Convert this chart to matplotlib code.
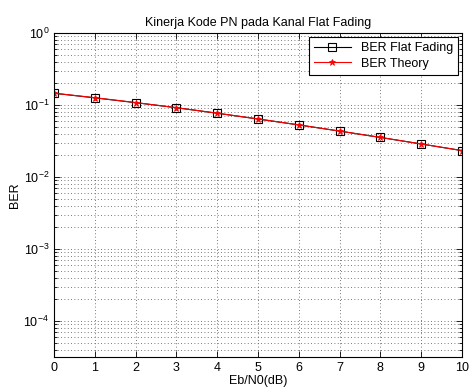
import numpy as np
import matplotlib
matplotlib.use('Agg')
import matplotlib.pyplot as plt
from matplotlib.ticker import LogLocator, NullFormatter

plt.rcParams['font.family'] = ['Liberation Sans', 'DejaVu Sans']
plt.rcParams['mathtext.default'] = 'regular'
plt.rcParams['font.size'] = 9

# data
ebn0 = [0, 1, 2, 3, 4, 5, 6, 7, 8, 9, 10]
ber_sim = [0.146, 0.126, 0.108, 0.092, 0.077, 0.064, 0.053, 0.0435, 0.0355, 0.0288, 0.0233]
ber_theory = [0.1464, 0.1267, 0.1085, 0.0919, 0.0771, 0.0642, 0.0530, 0.0435, 0.0355, 0.0288, 0.0233]
xticks = [0, 1, 2, 3, 4, 5, 6, 7, 8, 9, 10]

fig = plt.figure(figsize=(4.7, 3.9), dpi=100)
ax = fig.add_axes([0.115, 0.085, 0.868, 0.83])

ax.semilogy(ebn0, ber_sim, 'k-s', mfc='none', ms=6, lw=0.8, mew=0.8, label='BER Flat Fading')
ax.semilogy(ebn0, ber_theory, 'r-*', ms=4.5, lw=0.8, mew=0.6, label='BER Theory')

ax.set(xlim=[0, 10], ylim=[10**-4.5, 1])
ax.set_xticks(xticks)
ax.yaxis.set_major_locator(LogLocator(base=10, numticks=10))
ax.yaxis.set_minor_locator(LogLocator(base=10, subs=np.arange(2, 10), numticks=10))
ax.yaxis.set_minor_formatter(NullFormatter())

grid_style = dict(ls=(0, (1, 3)), color='0.3', lw=0.6)
ax.grid(True, which='major', axis='both', **grid_style)
ax.grid(True, which='minor', axis='y', **grid_style)
ax.tick_params(which='both', direction='in', top=True, right=True, width=0.6)
ax.tick_params(which='major', length=4)
ax.tick_params(which='minor', length=2)
for s in ax.spines.values():
    s.set_linewidth(0.8)

ax.set_title('Kinerja Kode PN pada Kanal Flat Fading', fontsize=9, pad=5)
ax.set_xlabel('Eb/N0(dB)', labelpad=1)
ax.set_ylabel('BER', labelpad=2)

leg = ax.legend(loc='upper right', fancybox=False, edgecolor='k', framealpha=1,
                borderaxespad=0.3, handlelength=3, numpoints=1, labelspacing=0.3)
leg.get_frame().set_linewidth(0.8)

fig.savefig('out.png', dpi=100)
